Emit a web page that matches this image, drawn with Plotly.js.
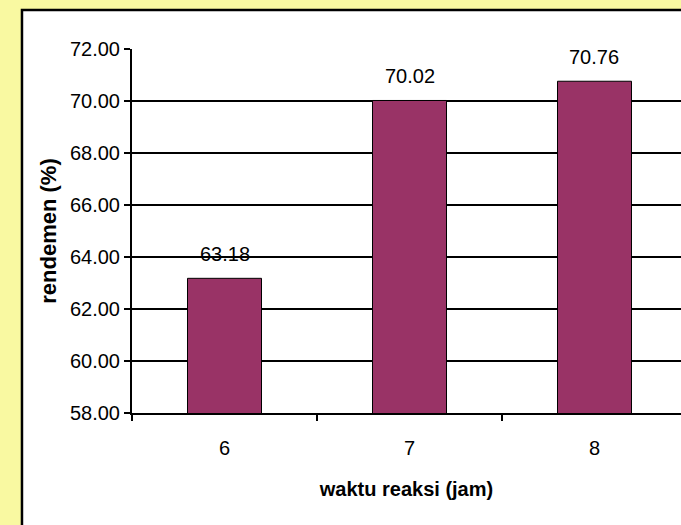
<!DOCTYPE html>
<html>
<head>
<meta charset="utf-8">
<script src="https://cdn.plot.ly/plotly-3.0.1.min.js"></script>
<style>html,body{margin:0;padding:0;background:#F9F9A1;}#chart{width:681px;height:525px;}</style>
</head>
<body>
<div id="chart"></div>
<script>
const categories = ["6", "7", "8"];
const rendemen = [63.18, 70.02, 70.76];
const labels = ["63.18", "70.02", "70.76"];
const yTicks = [58, 60, 62, 64, 66, 68, 70, 72];
const xTitle = "waktu reaksi (jam)";
const yTitle = "rendemen (%)";

const FONT = "'Liberation Sans Narrow', 'Arial Narrow', 'Liberation Sans', Arial, sans-serif";

const trace = {
  type: "bar",
  x: categories,
  y: rendemen,
  width: 0.4,
  marker: {color: "#993366", line: {color: "#000000", width: 1}},
  hoverinfo: "none"
};

const annotations = categories.map((c, i) => ({
  x: i, y: rendemen[i], xref: "x", yref: "y",
  text: labels[i], showarrow: false, yanchor: "middle", yshift: 24,
  font: {family: FONT, size: 20, color: "#000"}
}));

const layout = {
  width: 681, height: 525,
  margin: {l: 132, r: 0, t: 49, b: 112},
  paper_bgcolor: "#F9F9A1",
  plot_bgcolor: "rgba(0,0,0,0)",
  showlegend: false,
  font: {family: FONT, size: 20, color: "#000"},
  xaxis: {
    type: "category",
    range: [-0.5, 2.4676],
    tickson: "boundaries",
    ticks: "outside", ticklen: 6, tickcolor: "#000", tickwidth: 1.5,
    ticklabelstandoff: 16,
    showline: true, linecolor: "#000", linewidth: 2,
    showgrid: false, zeroline: false,
    tickfont: {family: FONT, size: 20, color: "#000"},
    title: {text: "<b>" + xTitle + "</b>", font: {family: FONT, size: 20, color: "#000"}, standoff: 24}
  },
  yaxis: {
    range: [58, 72],
    tickvals: yTicks,
    tickformat: ".2f",
    ticks: "outside", ticklen: 6, tickcolor: "#000", tickwidth: 1.5,
    showline: true, linecolor: "#000", linewidth: 2,
    showgrid: true, gridcolor: "#000", gridwidth: 1.5,
    zeroline: false,
    tickfont: {family: FONT, size: 20, color: "#000"},
    title: {text: "<b>" + yTitle + "</b>", font: {family: FONT, size: 22, color: "#000"}, standoff: 7}
  },
  annotations: annotations,
  shapes: [{
    type: "rect", xref: "paper", yref: "paper", layer: "below",
    x0: -0.2004, x1: 1.05, y0: -0.5, y1: 1.1071,
    fillcolor: "#FFFFFF", line: {color: "#000", width: 2.5}
  }]
};

Plotly.newPlot("chart", [trace], layout, {displayModeBar: false, staticPlot: true});
</script>
</body>
</html>
